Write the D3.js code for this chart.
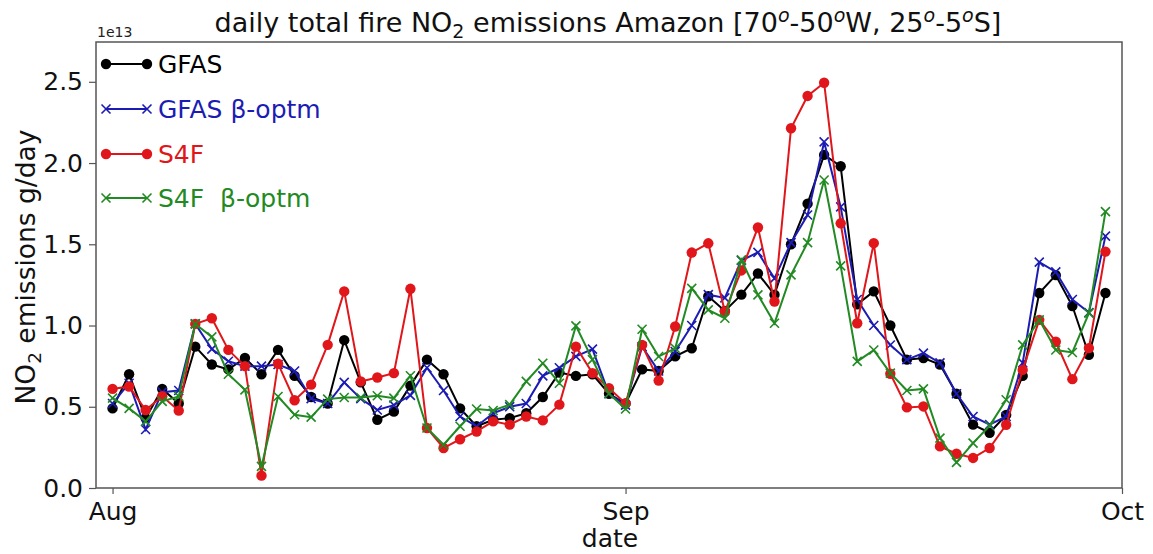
<!DOCTYPE html>
<html><head><meta charset="utf-8">
<script src="https://cdn.jsdelivr.net/npm/d3@7"></script>
<style>
html,body{margin:0;padding:0;background:#fff;}
text{font-family:"DejaVu Sans",sans-serif;}
</style></head>
<body><svg id="chart" width="1153" height="554"></svg>
<script>
// ---- data (values in units of 1e13 g/day), daily Aug 1 .. Sep 30 ----
const startDate = "2020-08-01";
const gfas = [0.49,0.70,0.43,0.61,0.52,0.87,0.76,0.73,0.80,0.70,0.85,0.69,0.56,0.52,0.91,0.65,0.42,0.47,0.63,0.79,0.70,0.49,0.38,0.42,0.43,0.46,0.56,0.71,0.69,0.70,0.58,
              0.52,0.73,0.72,0.81,0.86,1.18,1.09,1.19,1.32,1.19,1.50,1.75,2.05,1.98,1.13,1.21,1.00,0.79,0.80,0.76,0.58,0.39,0.34,0.45,0.69,1.20,1.31,1.12,0.82,1.20];
const gfasOpt = [0.52,0.645,0.36,0.59,0.60,1.01,0.855,0.78,0.75,0.75,0.76,0.72,0.55,0.52,0.65,0.55,0.48,0.51,0.57,0.74,0.60,0.44,0.38,0.46,0.50,0.52,0.69,0.74,0.81,0.855,0.58,
                 0.51,0.87,0.72,0.84,1.00,1.19,1.17,1.40,1.45,1.29,1.51,1.68,2.13,1.73,1.16,1.00,0.88,0.79,0.83,0.77,0.58,0.44,0.39,0.44,0.77,1.39,1.33,1.16,1.08,1.55];
const s4f = [0.61,0.625,0.48,0.565,0.476,1.01,1.045,0.85,0.75,0.076,0.765,0.54,0.636,0.881,1.21,0.656,0.68,0.707,1.226,0.369,0.246,0.30,0.348,0.41,0.39,0.44,0.416,0.513,0.87,0.707,0.614,
             0.52,0.88,0.661,0.994,1.449,1.506,1.086,1.339,1.603,1.148,2.214,2.413,2.494,1.629,1.014,1.507,0.703,0.496,0.502,0.256,0.211,0.185,0.246,0.389,0.727,1.035,0.90,0.67,0.861,1.455];
const s4fOpt = [0.553,0.49,0.41,0.533,0.564,1.01,0.93,0.70,0.604,0.133,0.563,0.451,0.436,0.547,0.557,0.557,0.568,0.553,0.691,0.369,0.266,0.38,0.486,0.477,0.513,0.656,0.768,0.645,0.998,0.79,0.58,
                0.486,0.977,0.809,0.86,1.229,1.096,1.045,1.404,1.189,1.014,1.312,1.51,1.896,1.367,0.779,0.849,0.707,0.60,0.61,0.307,0.158,0.276,0.383,0.543,0.881,1.035,0.849,0.834,1.076,1.701];
const seriesNames = ["GFAS","GFAS \u03b2-optm","S4F","S4F  \u03b2-optm"];
const yTicks = [0.0,0.5,1.0,1.5,2.0,2.5];
const xTickDates = ["2020-08-01","2020-09-01","2020-10-01"];
const xTickLabels = ["Aug","Sep","Oct"];

// ---- layout ----
const m={left:96,right:1122,top:42,bottom:488};
const svg=d3.select("#chart");
const parse=d3.utcParse("%Y-%m-%d");
const d0=parse(startDate);
const dates=gfas.map((_,i)=>d3.utcDay.offset(d0,i));
const x=d3.scaleUtc().domain([d3.utcDay.offset(d0,-1), parse("2020-10-01")]).range([m.left,m.right]);
const y=d3.scaleLinear().domain([0,2.745]).range([m.bottom,m.top]);

const series=[
  {name:seriesNames[0],vals:gfas,color:"#000000",marker:"circle"},
  {name:seriesNames[1],vals:gfasOpt,color:"#1c1cb4",marker:"x"},
  {name:seriesNames[2],vals:s4f,color:"#e0161a",marker:"circle"},
  {name:seriesNames[3],vals:s4fOpt,color:"#228a22",marker:"x"}
];

const line=d3.line().x((d,i)=>x(dates[i])).y(d=>y(d));
function drawMarker(g,type,cx,cy,color){
  if(type==="circle"){
    g.append("circle").attr("cx",cx).attr("cy",cy).attr("r",5.2).attr("fill",color);
  } else {
    const s=4.5;
    g.append("path").attr("d",`M${cx-s},${cy-s}L${cx+s},${cy+s}M${cx-s},${cy+s}L${cx+s},${cy-s}`)
      .attr("stroke",color).attr("stroke-width",1.6).attr("fill","none");
  }
}
const plot=svg.append("g");
series.forEach(s=>{
  const g=plot.append("g");
  g.append("path").datum(s.vals).attr("d",line).attr("fill","none").attr("stroke",s.color).attr("stroke-width",2);
  s.vals.forEach((v,i)=>drawMarker(g,s.marker,x(dates[i]),y(v),s.color));
});

// ---- axes ----
const axisColor="#555";
const yAxis=svg.append("g").attr("transform",`translate(${m.left},0)`)
  .call(d3.axisLeft(y).tickValues(yTicks).tickFormat(d3.format(".1f")).tickSize(7).tickPadding(6));
const xAxis=svg.append("g").attr("transform",`translate(0,${m.bottom})`)
  .call(d3.axisBottom(x).tickValues(xTickDates.map(parse)).tickFormat((d,i)=>xTickLabels[i]).tickSize(6).tickPadding(8));
[yAxis,xAxis].forEach(a=>{
  a.select(".domain").remove();
  a.selectAll("line").attr("stroke",axisColor).attr("stroke-width",1.2);
  a.selectAll("text").attr("font-size",25).attr("fill","#111").attr("font-family","DejaVu Sans");
});
svg.append("rect").attr("x",m.left).attr("y",m.top).attr("width",m.right-m.left).attr("height",m.bottom-m.top)
  .attr("fill","none").attr("stroke",axisColor).attr("stroke-width",1.5);

// offset text
svg.append("text").attr("x",m.left+1).attr("y",37).attr("font-size",14).attr("fill","#222").text("1e13");

// title
const t=svg.append("text").attr("x",608).attr("y",32).attr("text-anchor","middle").attr("font-size",27).attr("fill","#111");
t.append("tspan").text("daily total fire NO");
t.append("tspan").attr("font-size",19).attr("dy",6).text("2");
t.append("tspan").attr("dy",-6).text(" emissions Amazon [70");
t.append("tspan").attr("font-size",19).attr("dy",-10).attr("font-style","italic").text("o");
t.append("tspan").attr("dy",10).text("-50");
t.append("tspan").attr("font-size",19).attr("dy",-10).attr("font-style","italic").text("o");
t.append("tspan").attr("dy",10).text("W, 25");
t.append("tspan").attr("font-size",19).attr("dy",-10).attr("font-style","italic").text("o");
t.append("tspan").attr("dy",10).text("-5");
t.append("tspan").attr("font-size",19).attr("dy",-10).attr("font-style","italic").text("o");
t.append("tspan").attr("dy",10).text("S]");

// axis labels
svg.append("text").attr("x",610).attr("y",547).attr("text-anchor","middle").attr("font-size",25).attr("fill","#111").text("date");
const yl=svg.append("text").attr("transform",`translate(35,267) rotate(-90)`).attr("text-anchor","middle").attr("font-size",26.5).attr("fill","#111");
yl.append("tspan").text("NO");
yl.append("tspan").attr("font-size",18.5).attr("dy",6).text("2");
yl.append("tspan").attr("dy",-6).text(" emissions g/day");

// legend
const leg=svg.append("g");
const legY=[64,109,154,198];
series.forEach((s,i)=>{
  const g=leg.append("g");
  g.append("line").attr("x1",106).attr("x2",147).attr("y1",legY[i]).attr("y2",legY[i]).attr("stroke",s.color).attr("stroke-width",2);
  drawMarker(g,s.marker,106,legY[i],s.color);
  drawMarker(g,s.marker,147,legY[i],s.color);
  g.append("text").attr("x",158).attr("y",legY[i]).attr("dy","0.36em").attr("font-size",25).attr("fill",s.color).attr("xml:space","preserve").text(s.name);
});
</script></body></html>
